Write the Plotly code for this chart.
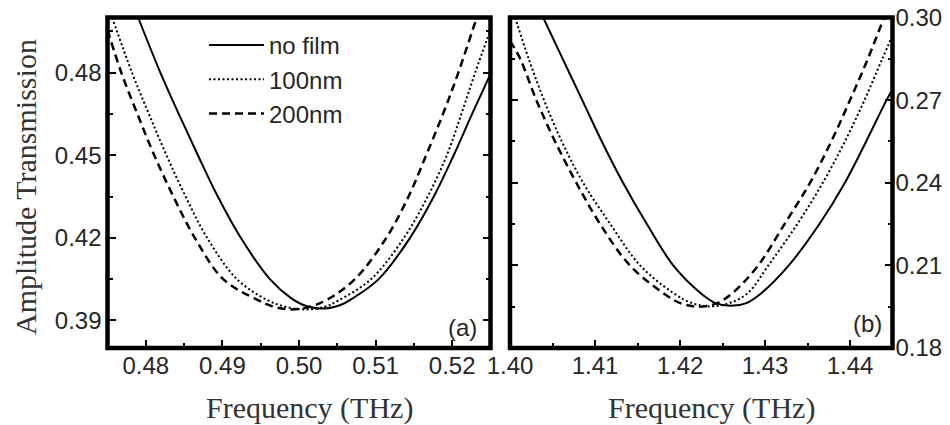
import plotly.graph_objects as go

# ---------------- data ----------------
# Panel (a)
freq_a_nofilm = [0.4790, 0.4819, 0.4843, 0.4868, 0.4894, 0.4924, 0.4962, 0.4990, 0.5005,
                 0.5030, 0.5055, 0.5070, 0.5104, 0.5145, 0.5176, 0.5202, 0.5226, 0.5250]
amp_a_nofilm = [0.500, 0.480, 0.465, 0.450, 0.435, 0.420, 0.405, 0.3980, 0.3957,
                0.3943, 0.3957, 0.3980, 0.405, 0.420, 0.435, 0.450, 0.465, 0.4795]

freq_a_100 = [0.4756, 0.4782, 0.4804, 0.4827, 0.4852, 0.4880, 0.4919, 0.4958, 0.4983,
              0.5008, 0.5033, 0.5051, 0.5094, 0.5137, 0.5168, 0.5193, 0.5212, 0.5230, 0.5250]
amp_a_100 = [0.500, 0.480, 0.465, 0.450, 0.435, 0.420, 0.405, 0.3975, 0.3949,
             0.3940, 0.3949, 0.3972, 0.405, 0.420, 0.435, 0.450, 0.465, 0.480, 0.4955]

freq_a_200 = [0.4750, 0.4768, 0.4789, 0.4811, 0.4836, 0.4864, 0.4901, 0.4945, 0.4968,
              0.4990, 0.5013, 0.5037, 0.5073, 0.5114, 0.5143, 0.5166, 0.5188, 0.5208, 0.5232]
amp_a_200 = [0.4955, 0.480, 0.465, 0.450, 0.435, 0.420, 0.405, 0.3976, 0.3949,
             0.3940, 0.3949, 0.3976, 0.405, 0.420, 0.435, 0.450, 0.465, 0.480, 0.500]

# Panel (b)
freq_b_nofilm = [1.4039, 1.4062, 1.4085, 1.4108, 1.4133, 1.4161, 1.4192, 1.4224, 1.4242,
                 1.4260, 1.4278, 1.4296, 1.4328, 1.4364, 1.4394, 1.4419, 1.4443, 1.4450]
amp_b_nofilm = [0.300, 0.285, 0.270, 0.255, 0.240, 0.225, 0.210, 0.200, 0.1963,
                0.1953, 0.1963, 0.200, 0.210, 0.225, 0.240, 0.255, 0.270, 0.2739]

freq_b_100 = [1.4006, 1.4022, 1.4040, 1.4061, 1.4086, 1.4118, 1.4153, 1.4192, 1.4214,
              1.4236, 1.4258, 1.4280, 1.4304, 1.4338, 1.4368, 1.4394, 1.4417, 1.4438, 1.4450]
amp_b_100 = [0.300, 0.285, 0.270, 0.255, 0.240, 0.225, 0.210, 0.200, 0.1963,
             0.1951, 0.1963, 0.200, 0.210, 0.225, 0.240, 0.255, 0.270, 0.285, 0.2935]

freq_b_200 = [1.4000, 1.4012, 1.4031, 1.4053, 1.4078, 1.4106, 1.4141, 1.4180, 1.4201,
              1.4222, 1.4243, 1.4262, 1.4292, 1.4323, 1.4353, 1.4378, 1.4400, 1.4421, 1.4440]
amp_b_200 = [0.2915, 0.285, 0.270, 0.255, 0.240, 0.225, 0.210, 0.200, 0.1962,
             0.1950, 0.1962, 0.200, 0.210, 0.225, 0.240, 0.255, 0.270, 0.285, 0.300]

series_names = ["no film", "100nm", "200nm"]
xtitle = "Frequency (THz)"
ytitle = "Amplitude Transmission"

# ---------------- styling ----------------
# The page body adds an 8px margin, so the figure is made 8px smaller and all
# positions below are given in window pixels and converted with OFF.
OFF = 8
W, H = 950 - OFF, 425 - OFF


def px(x):
    return (x - OFF) / W


def py(y):
    return 1 - (y - OFF) / H


tick_font = dict(family="Liberation Sans, Arial, sans-serif", size=24, color="#262626")
title_font = dict(family="Liberation Serif, Times New Roman, serif", size=30, color="#333333")
styles = [
    dict(color="black", width=2, dash="solid"),
    dict(color="black", width=2, dash="2px,2.5px"),
    dict(color="black", width=2.5, dash="8px,5px"),
]

fig = go.Figure()
panel_a = [(freq_a_nofilm, amp_a_nofilm), (freq_a_100, amp_a_100), (freq_a_200, amp_a_200)]
panel_b = [(freq_b_nofilm, amp_b_nofilm), (freq_b_100, amp_b_100), (freq_b_200, amp_b_200)]
for i, (fx, fy) in enumerate(panel_a):
    fig.add_trace(go.Scatter(x=fx, y=fy, mode="lines", name=series_names[i],
                             line=dict(shape="spline", smoothing=1.0, **styles[i]),
                             xaxis="x", yaxis="y", showlegend=True))
for i, (fx, fy) in enumerate(panel_b):
    fig.add_trace(go.Scatter(x=fx, y=fy, mode="lines", name=series_names[i],
                             line=dict(shape="spline", smoothing=1.0, **styles[i]),
                             xaxis="x2", yaxis="y2", showlegend=False))

common = dict(showline=False, showgrid=False, zeroline=False,
              ticks="inside", ticklen=8, tickwidth=1.5, tickcolor="black", automargin=False,
              tickfont=tick_font, tickformat=".2f", ticklabeloverflow="allow")
ydom = [py(348), py(17.5)]


def minor(dt, t0):
    return dict(dtick=dt, tick0=t0, ticklen=5, tickwidth=1.5, ticks="inside", tickcolor="black")


frame = dict(type="rect", x0=0, x1=1, y0=0, y1=1, line=dict(color="black", width=4.5),
             fillcolor="rgba(0,0,0,0)", layer="above")

fig.update_layout(
    width=W, height=H,
    margin=dict(l=0, r=0, t=0, b=0),
    paper_bgcolor="white", plot_bgcolor="white",
    xaxis=dict(domain=[px(107.5), px(490.5)], range=[0.475, 0.525], tick0=0.48, dtick=0.01,
               mirror=True, anchor="y", minor=minor(0.005, 0.475), ticklabelstandoff=1,
               **common),
    yaxis=dict(domain=ydom, range=[0.38, 0.50], tick0=0.39, dtick=0.03, mirror="ticks",
               anchor="x", minor=minor(0.015, 0.375), ticklabelstandoff=5, **common),
    xaxis2=dict(domain=[px(510), px(892.5)], range=[1.40, 1.445], tick0=1.40, dtick=0.01,
                mirror=True, anchor="y2", minor=minor(0.005, 1.40), ticklabelstandoff=1,
                **common),
    yaxis2=dict(domain=ydom, range=[0.17999, 0.30001], tick0=0.18, dtick=0.03, mirror="ticks",
                side="right", anchor="x2", minor=minor(0.015, 0.18), ticklabelstandoff=2,
                **common),
    shapes=[dict(xref="x domain", yref="y domain", **frame),
            dict(xref="x2 domain", yref="y2 domain", **frame)],
    legend=dict(x=px(204), y=py(23), xanchor="left", yanchor="top",
                bgcolor="rgba(0,0,0,0)", borderwidth=0,
                font=dict(family="Liberation Sans, Arial, sans-serif", size=24, color="#262626"),
                itemwidth=55, tracegroupgap=0),
    annotations=[
        dict(text=ytitle, x=px(25), y=py(187), xref="paper", yref="paper", borderpad=0,
             textangle=-90, showarrow=False, font=title_font, xanchor="center", yanchor="middle"),
        dict(text=xtitle, x=px(309), y=py(408), xref="paper", yref="paper",
             showarrow=False, font=title_font, xanchor="center", yanchor="middle"),
        dict(text=xtitle, x=px(711), y=py(408), xref="paper", yref="paper",
             showarrow=False, font=title_font, xanchor="center", yanchor="middle"),
        dict(text="(a)", x=px(479), y=py(327), xref="paper", yref="paper",
             showarrow=False, font=tick_font, xanchor="right", yanchor="middle"),
        dict(text="(b)", x=px(884), y=py(323), xref="paper", yref="paper",
             showarrow=False, font=tick_font, xanchor="right", yanchor="middle"),
    ],
)

fig.write_html("out.html")
